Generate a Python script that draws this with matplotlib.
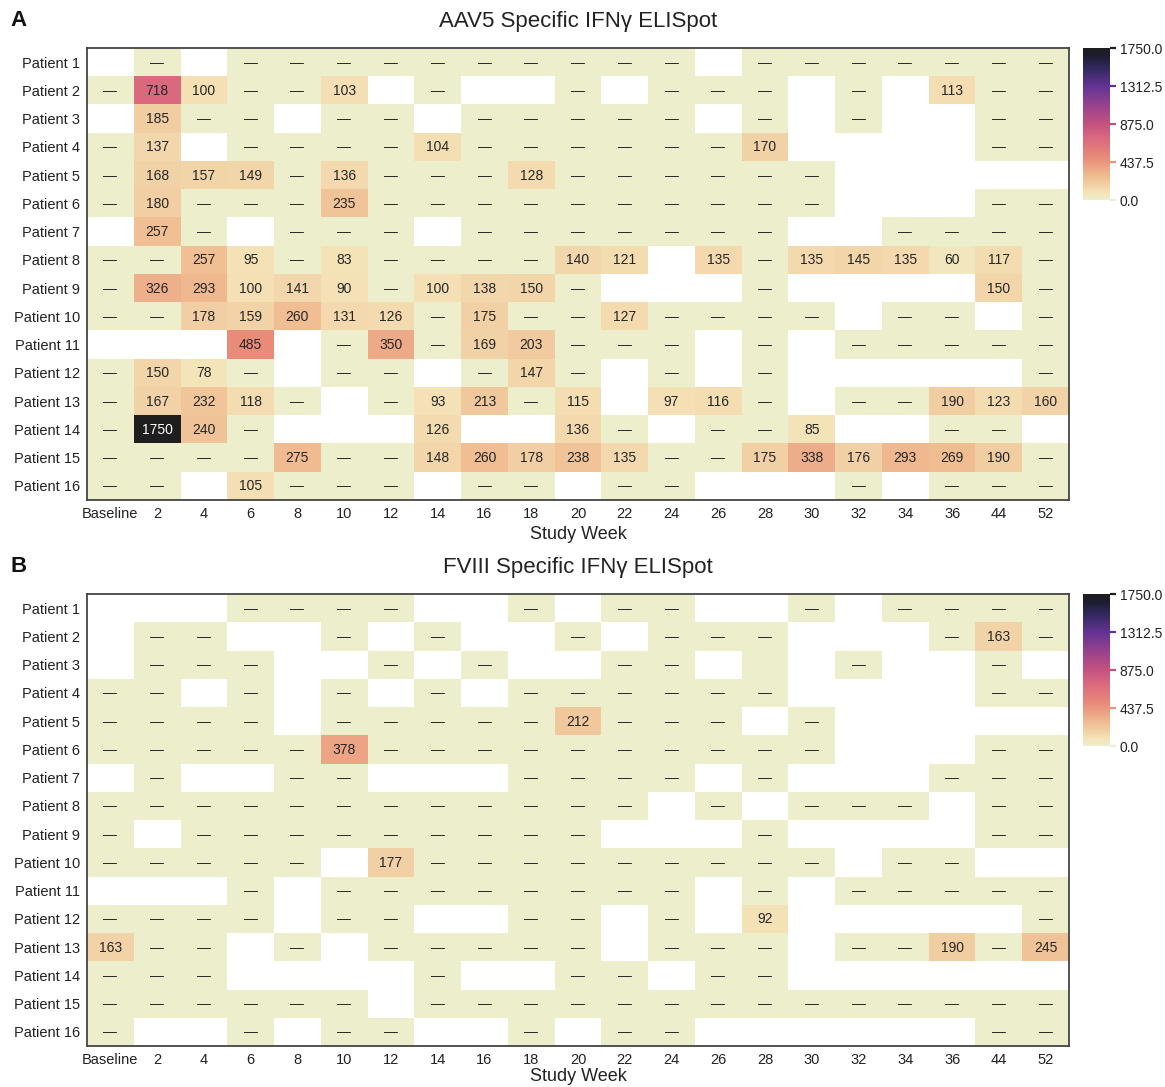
import numpy as np
import matplotlib
matplotlib.use("Agg")
import matplotlib.pyplot as plt
from matplotlib.colors import LinearSegmentedColormap, to_rgb

plt.rcParams['font.family'] = ['Liberation Sans', 'DejaVu Sans']

n = np.nan

weeks = ["Baseline", "2", "4", "6", "8", "10", "12", "14", "16", "18", "20",
         "22", "24", "26", "28", "30", "32", "34", "36", "44", "52"]
patients = [f"Patient {i}" for i in range(1, 17)]

aav5_title = "AAV5 Specific IFNγ ELISpot"
fviii_title = "FVIII Specific IFNγ ELISpot"

# Panel A values (0 shown as dash, nan = no sample)
aav5 = [
    [n, 0, n, 0, 0, 0, 0, 0, 0, 0, 0, 0, 0, n, 0, 0, 0, 0, 0, 0, 0],
    [0, 718, 100, 0, 0, 103, n, 0, n, n, 0, n, 0, 0, 0, n, 0, n, 113, 0, 0],
    [n, 185, 0, 0, n, 0, 0, n, 0, 0, 0, 0, 0, n, 0, n, 0, n, n, 0, 0],
    [0, 137, n, 0, 0, 0, 0, 104, 0, 0, 0, 0, 0, 0, 170, n, n, n, n, 0, 0],
    [0, 168, 157, 149, 0, 136, 0, 0, 0, 128, 0, 0, 0, 0, 0, 0, n, n, n, n, n],
    [0, 180, 0, 0, 0, 235, 0, 0, 0, 0, 0, 0, 0, 0, 0, 0, n, n, n, 0, 0],
    [n, 257, 0, n, 0, 0, 0, n, 0, 0, 0, 0, 0, 0, 0, n, n, 0, 0, 0, 0],
    [0, 0, 257, 95, 0, 83, 0, 0, 0, 0, 140, 121, n, 135, 0, 135, 145, 135, 60, 117, 0],
    [0, 326, 293, 100, 141, 90, 0, 100, 138, 150, 0, n, n, n, 0, n, n, n, n, 150, 0],
    [0, 0, 178, 159, 260, 131, 126, 0, 175, 0, 0, 127, 0, 0, 0, 0, n, 0, 0, n, 0],
    [n, n, n, 485, n, 0, 350, 0, 169, 203, 0, 0, 0, n, 0, n, 0, 0, 0, 0, 0],
    [0, 150, 78, 0, n, 0, 0, n, 0, 147, 0, n, 0, n, 0, n, n, n, n, n, 0],
    [0, 167, 232, 118, 0, n, 0, 93, 213, 0, 115, n, 97, 116, 0, n, 0, 0, 190, 123, 160],
    [0, 1750, 240, 0, n, n, n, 126, n, n, 136, 0, n, 0, 0, 85, n, n, 0, 0, n],
    [0, 0, 0, 0, 275, 0, 0, 148, 260, 178, 238, 135, 0, 0, 175, 338, 176, 293, 269, 190, 0],
    [0, 0, n, 105, 0, 0, 0, n, 0, 0, n, 0, 0, n, n, n, 0, n, 0, 0, 0],
]

# Panel B values
fviii = [
    [n, n, n, 0, 0, 0, 0, n, n, 0, n, 0, 0, n, n, 0, n, 0, 0, 0, 0],
    [n, 0, 0, n, n, 0, n, 0, n, n, 0, n, 0, 0, 0, n, n, n, 0, 163, 0],
    [n, 0, 0, 0, n, n, 0, n, 0, n, n, 0, 0, n, 0, n, 0, n, n, 0, n],
    [0, 0, n, 0, n, 0, n, 0, n, 0, 0, 0, 0, 0, 0, n, n, n, n, 0, 0],
    [0, 0, 0, 0, n, 0, 0, 0, 0, 0, 212, 0, 0, 0, n, 0, n, n, n, n, n],
    [0, 0, 0, 0, 0, 378, 0, 0, 0, 0, 0, 0, 0, 0, 0, 0, n, n, n, 0, 0],
    [n, 0, n, n, 0, 0, n, n, n, 0, 0, 0, 0, n, 0, n, n, n, 0, 0, 0],
    [0, 0, 0, 0, 0, 0, 0, 0, 0, 0, 0, 0, n, 0, n, 0, 0, 0, n, 0, 0],
    [0, n, 0, 0, 0, 0, 0, 0, 0, 0, 0, n, n, n, 0, n, n, n, n, 0, 0],
    [0, 0, 0, 0, 0, n, 177, 0, 0, 0, 0, 0, 0, 0, 0, 0, n, 0, 0, n, n],
    [n, n, n, 0, n, 0, 0, 0, 0, 0, 0, 0, 0, n, 0, n, 0, 0, 0, 0, 0],
    [0, 0, 0, 0, n, 0, 0, n, n, 0, 0, n, 0, n, 92, n, n, n, n, n, 0],
    [163, 0, 0, n, 0, n, 0, 0, 0, 0, 0, n, 0, 0, 0, n, 0, 0, 190, 0, 245],
    [0, 0, 0, n, n, n, n, 0, n, n, 0, 0, n, 0, 0, n, n, n, n, n, n],
    [0, 0, 0, 0, 0, 0, n, 0, 0, 0, 0, 0, 0, 0, 0, 0, 0, 0, 0, 0, 0],
    [0, n, n, 0, n, 0, 0, n, n, 0, n, 0, 0, n, n, n, n, n, n, 0, 0],
]
# cells shown coloured but without a label (row, col)
fviii_unlabelled = [(2, 14)]

vmax = 1750.0
cbar_ticks = [0.0, 437.5, 875.0, 1312.5, 1750.0]

cmap = LinearSegmentedColormap.from_list("elispot", [
    (0.00, "#ECEECC"),
    (0.05, "#F4E2B6"),
    (0.10, "#F1CFA4"),
    (0.15, "#F0BE92"),
    (0.20, "#EDAA88"),
    (0.28, "#E88A78"),
    (0.41, "#DA687E"),
    (0.50, "#C4527F"),
    (0.62, "#98428C"),
    (0.75, "#633394"),
    (0.88, "#2D2758"),
    (0.95, "#1C1C30"),
    (1.00, "#1E1E1E"),
])
cmap.set_bad("white")

W, H = 1165, 1087
fig = plt.figure(figsize=(W / 100, H / 100), dpi=100)


def px_axes(x0, y0, x1, y1):
    return fig.add_axes([x0 / W, 1 - y1 / H, (x1 - x0) / W, (y1 - y0) / H])


def lum(c):
    r, g, b = to_rgb(c)
    return 0.2126 * r + 0.7152 * g + 0.0722 * b


def draw_panel(data, unlabelled, top, title, letter, xlabel_pad):
    arr = np.array(data, dtype=float)
    ax = px_axes(87, top, 1069, top + 452)
    m = np.ma.masked_invalid(arr)
    im = ax.pcolormesh(np.arange(len(weeks) + 1), np.arange(len(patients) + 1), m,
                       cmap=cmap, vmin=0, vmax=vmax, shading="flat")
    ax.set_xlim(0, len(weeks))
    ax.set_ylim(len(patients), 0)
    ax.set_xticks(np.arange(len(weeks)) + 0.5)
    ax.set_xticklabels(weeks, fontsize=10.5, color="#222222")
    ax.set_yticks(np.arange(len(patients)) + 0.5)
    ax.set_yticklabels(patients, fontsize=10.5, color="#222222")
    ax.tick_params(length=0, pad=5)
    for s in ax.spines.values():
        s.set_color("#444444")
        s.set_linewidth(1.3)
    for i in range(arr.shape[0]):
        for j in range(arr.shape[1]):
            v = arr[i, j]
            if np.isnan(v) or (i, j) in unlabelled:
                continue
            txt = "—" if v == 0 else f"{int(v)}"
            col = "white" if lum(cmap(v / vmax)) < 0.4 else "#262626"
            ax.text(j + 0.5, i + 0.52, txt, ha="center", va="center",
                    fontsize=10, color=col)
    ax.set_xlabel("Study Week", fontsize=13, color="#222222", labelpad=xlabel_pad)
    fig.text(578 / W, 1 - (top - 27) / H, title, ha="center", va="center",
             fontsize=16, color="#222222")
    fig.text(10 / W, 1 - (top - 27) / H, letter, ha="left", va="center",
             fontsize=16, fontweight="bold", color="#111111")

    cax = px_axes(1083, top, 1110, top + 152)
    cb = fig.colorbar(im, cax=cax, ticks=cbar_ticks)
    cb.outline.set_visible(False)
    cb.ax.set_yticklabels([f"{t:.1f}" for t in cbar_ticks])
    cb.ax.tick_params(labelsize=10, length=0, pad=7, labelcolor="#222222")
    for lab in cb.ax.get_yticklabels():
        lab.set_verticalalignment("center_baseline")
    tr = cax.get_yaxis_transform()
    for t in cbar_ticks:
        cax.plot([1.0, 1.22], [t, t], transform=tr, color=cmap(t / vmax),
                 lw=1.6, clip_on=False, solid_capstyle="butt")
    return ax


draw_panel(aav5, [], 48, aav5_title, "A", 4)
draw_panel(fviii, fviii_unlabelled, 594, fviii_title, "B", 1)

fig.savefig("out.png", dpi=100)
